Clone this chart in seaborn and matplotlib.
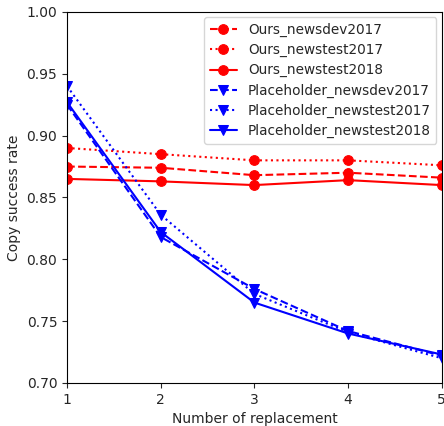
import pandas as pd
import matplotlib
matplotlib.use("Agg")
import matplotlib.pyplot as plt
import seaborn as sns

sns.set_style("ticks")

# data
replacements = [1, 2, 3, 4, 5]
ours_dev2017 = [0.875, 0.874, 0.868, 0.870, 0.866]
ours_test2017 = [0.890, 0.885, 0.880, 0.880, 0.876]
ours_test2018 = [0.865, 0.863, 0.860, 0.864, 0.860]
ph_dev2017 = [0.925, 0.818, 0.776, 0.742, 0.722]
ph_test2017 = [0.940, 0.836, 0.772, 0.741, 0.720]
ph_test2018 = [0.927, 0.822, 0.765, 0.740, 0.723]

series = [
    ("Ours_newsdev2017", ours_dev2017, "red", "o", "--"),
    ("Ours_newstest2017", ours_test2017, "red", "o", ":"),
    ("Ours_newstest2018", ours_test2018, "red", "o", "-"),
    ("Placeholder_newsdev2017", ph_dev2017, "blue", "v", "--"),
    ("Placeholder_newstest2017", ph_test2017, "blue", "v", ":"),
    ("Placeholder_newstest2018", ph_test2018, "blue", "v", "-"),
]

fig, ax = plt.subplots(figsize=(4.44, 4.26), dpi=100)
for name, vals, color, marker, ls in series:
    df = pd.DataFrame({"x": replacements, "y": vals})
    sns.lineplot(data=df, x="x", y="y", ax=ax, color=color, marker=marker,
                 linestyle=ls, markersize=7, markeredgecolor=color,
                 linewidth=1.5, label=name)

ax.set_xlim(1, 5)
ax.set_ylim(0.70, 1.00)
ax.set_xticks(replacements)
ax.set_yticks([0.70, 0.75, 0.80, 0.85, 0.90, 0.95, 1.00])
ax.set_xlabel("Number of replacement")
ax.set_ylabel("Copy success rate")
for sp in ax.spines.values():
    sp.set_color("black")
ax.legend(loc="upper right", fontsize=9.8, handlelength=2.0,
          labelspacing=0.45, borderaxespad=0.4)

fig.subplots_adjust(left=0.151, right=0.995, top=0.972, bottom=0.101)
fig.savefig("out.png", dpi=100)
